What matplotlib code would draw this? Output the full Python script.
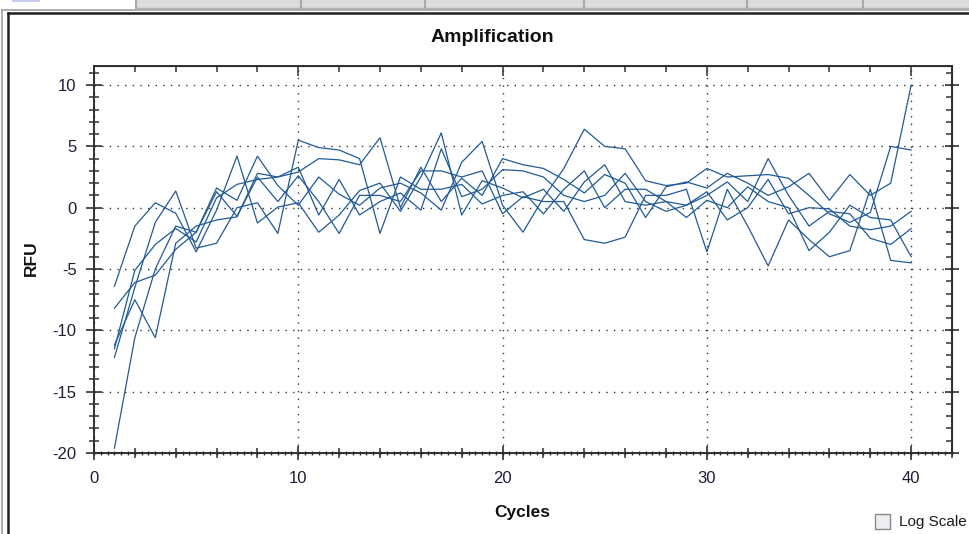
import numpy as np
import matplotlib.pyplot as plt
from matplotlib.ticker import MultipleLocator, FixedLocator, NullFormatter
from matplotlib.lines import Line2D
from matplotlib.patches import Rectangle

plt.rcParams['font.family'] = ['Liberation Sans', 'DejaVu Sans']
plt.rcParams['axes.unicode_minus'] = False

# Amplification data: RFU per cycle for 6 wells
cycles = np.arange(1, 41)

well_a = [-11.5, -5.1, -3.0, -1.7, -2.8, 0.8, 1.9, 2.3, 2.5, 2.9,
          4.0, 3.9, 3.5, 5.7, 0.0, 3.3, 0.5, 2.4, 1.0, 4.0,
          3.5, 3.2, 2.3, 1.2, 2.7, 2.0, -0.8, 1.7, 2.1, 1.6,
          2.8, 2.0, 1.0, 1.7, 2.8, 0.6, 2.7, 1.0, 2.0, 10.0]
well_b = [-8.2, -6.1, -5.5, -3.4, -2.0, 1.6, 0.6, 4.2, 1.8, 0.2,
          2.5, 1.1, 0.2, 1.6, 2.0, 1.2, -0.2, 3.7, 5.4, 0.2,
          -2.0, 0.8, 3.2, 6.4, 5.0, 4.8, 2.2, 1.8, 2.0, 3.2,
          2.5, 2.6, 2.7, 2.4, 1.0, -0.5, -1.2, -0.4, 5.0, 4.7]
well_c = [-6.4, -1.5, 0.4, -0.45, -3.6, -0.2, 4.2, -1.25, 0.05, 0.4,
          -2.0, -0.6, 1.4, 2.0, -0.3, 2.5, 6.1, -0.6, 2.2, 1.6,
          0.8, 1.5, -0.3, 2.1, 3.5, 0.5, 0.2, 0.5, 0.2, 1.3,
          -1.0, 0.0, 2.3, -0.5, 0.0, -0.1, -1.5, -1.8, -1.5, -0.3]
well_d = [-11.2, -7.5, -10.6, -2.9, -1.5, -1.0, -0.75, 2.8, 2.5, 3.3,
          -0.6, 2.3, -0.6, 0.5, 1.2, -0.2, 4.8, 0.9, 1.5, 3.1,
          3.0, 2.5, 1.0, 0.5, 1.0, 2.8, 0.5, -0.3, 0.2, 1.0,
          2.1, 0.5, 4.0, 1.0, -1.5, -0.3, -0.5, -2.5, -3.0, -1.7]
well_e = [-12.2, -6.5, -1.2, 1.36, -3.3, -2.9, 0.0, 0.4, -2.1, 5.5,
          4.9, 4.7, 4.0, -2.1, 2.5, 1.5, 1.5, 1.9, 0.3, 1.0,
          1.3, -0.5, 1.5, 3.0, 0.0, 1.5, 1.5, 0.5, -0.8, 0.6,
          0.0, 1.7, 0.5, 0.0, -3.5, -2.0, 0.2, -0.8, -1.0, -4.0]
well_f = [-19.6, -10.6, -5.0, -1.5, -2.0, 1.3, -0.7, 2.5, 0.5, 2.6,
          0.5, -2.1, 1.0, 1.0, 0.5, 3.0, 3.0, 2.5, 3.0, -0.5,
          0.9, 0.5, 0.5, -2.6, -2.9, -2.4, 1.0, 1.0, 1.5, -3.6,
          1.5, -1.5, -4.75, -1.0, -2.6, -4.0, -3.5, 1.5, -4.3, -4.5]

wells = [well_a, well_b, well_c, well_d, well_e, well_f]

W, H = 969, 534
fig = plt.figure(figsize=(W / 100, H / 100), dpi=100)


def fx(x):
    return x / W


def fy(y):
    return 1 - y / H


# window chrome: tab strip and panel border
fig.patches.append(Rectangle((fx(136), fy(8)), fx(W - 136), 8 / H,
                             transform=fig.transFigure, facecolor='#dcdcdc',
                             edgecolor='none'))
for sx in [136, 301, 425, 584, 747, 863]:
    fig.add_artist(Line2D([fx(sx), fx(sx)], [fy(0), fy(8)], color='#a8a8a8', lw=1.5))
fig.add_artist(Line2D([fx(136), 1], [fy(7.5), fy(7.5)], color='#b0b0b0', lw=1))
fig.patches.append(Rectangle((fx(12), fy(2)), fx(28), 2 / H, transform=fig.transFigure,
                             facecolor='#c8ccf0', edgecolor='none'))
fig.add_artist(Line2D([fx(2), fx(2)], [fy(10), 0], color='#a0a0a0', lw=1.2))
fig.add_artist(Line2D([fx(2), 1], [fy(10), fy(10)], color='#a0a0a0', lw=1.2))
fig.add_artist(Line2D([fx(7.5), fx(7.5)], [fy(12.5), 0], color='#202020', lw=1.8))
fig.add_artist(Line2D([fx(7.5), 1], [fy(12.5), fy(12.5)], color='#202020', lw=1.8))

ax = fig.add_axes([fx(94), fy(453), fx(952 - 94), (453 - 66) / H])

for vals in wells:
    ax.plot(cycles, vals, color='#215a97', lw=0.9)

ax.set_xlim(0, 42)
ax.set_ylim(-20, 11.55)

ax.xaxis.set_major_locator(MultipleLocator(10))
ax.xaxis.set_minor_locator(MultipleLocator(2))
ax.yaxis.set_major_locator(MultipleLocator(5))
ax.yaxis.set_minor_locator(MultipleLocator(1))

ax.grid(True, which='major', color='#333333', ls=(0, (1, 4.5)), lw=1.0)

for s in ax.spines.values():
    s.set_color('#303030')
    s.set_linewidth(1.4)

lab_color = '#1e1e38'
ax.tick_params(axis='x', which='major', direction='inout', length=10, width=1.2,
               labelsize=12, pad=8, colors='#303030', labelcolor=lab_color)
ax.tick_params(axis='x', which='minor', direction='inout', length=7, width=1.1,
               colors='#303030')
ax.tick_params(axis='y', which='major', direction='inout', length=11, width=1.2,
               labelsize=12, pad=7, colors='#303030', labelcolor=lab_color)
ax.tick_params(axis='y', which='minor', direction='inout', length=7, width=1.1,
               colors='#303030')

# tiny ticks along the bottom axis
tiny = ax.secondary_xaxis('bottom')
tiny.xaxis.set_major_locator(FixedLocator(np.arange(0, 42.01, 1 / 3)))
tiny.xaxis.set_major_formatter(NullFormatter())
tiny.tick_params(direction='inout', length=3, width=1.0, colors='#303030')

top = ax.secondary_xaxis('top')
top.xaxis.set_major_locator(MultipleLocator(10))
top.xaxis.set_minor_locator(MultipleLocator(2))
top.xaxis.set_major_formatter(NullFormatter())
top.tick_params(which='major', direction='in', length=7, width=1.1, colors='#303030')
top.tick_params(which='minor', direction='in', length=4, width=1.1, colors='#303030')

right = ax.secondary_yaxis('right')
right.yaxis.set_major_locator(MultipleLocator(5))
right.yaxis.set_minor_locator(MultipleLocator(1))
right.yaxis.set_major_formatter(NullFormatter())
right.tick_params(which='major', direction='inout', length=10, width=1.2, colors='#303030')
right.tick_params(which='minor', direction='in', length=4, width=1.1, colors='#303030')

fig.text(fx(492), fy(38), 'Amplification', ha='center', va='center',
         fontsize=14, fontweight='bold', color='#111111')
fig.text(fx(522), fy(512), 'Cycles', ha='center', va='center',
         fontsize=12.5, fontweight='bold', color='#111111')
fig.text(fx(31), fy(258), 'RFU', ha='center', va='center', rotation=90,
         fontsize=12.5, fontweight='bold', color='#111111')

# "Log Scale" checkbox
fig.patches.append(Rectangle((fx(875), fy(529)), fx(15), 15 / H,
                             transform=fig.transFigure, facecolor='#eceef2',
                             edgecolor='#8a8a8a', lw=1.0))
fig.text(fx(899), fy(522), 'Log Scale', ha='left', va='center',
         fontsize=11, color='#1a1a1a')

fig.savefig('out.png', dpi=100, facecolor='white')
